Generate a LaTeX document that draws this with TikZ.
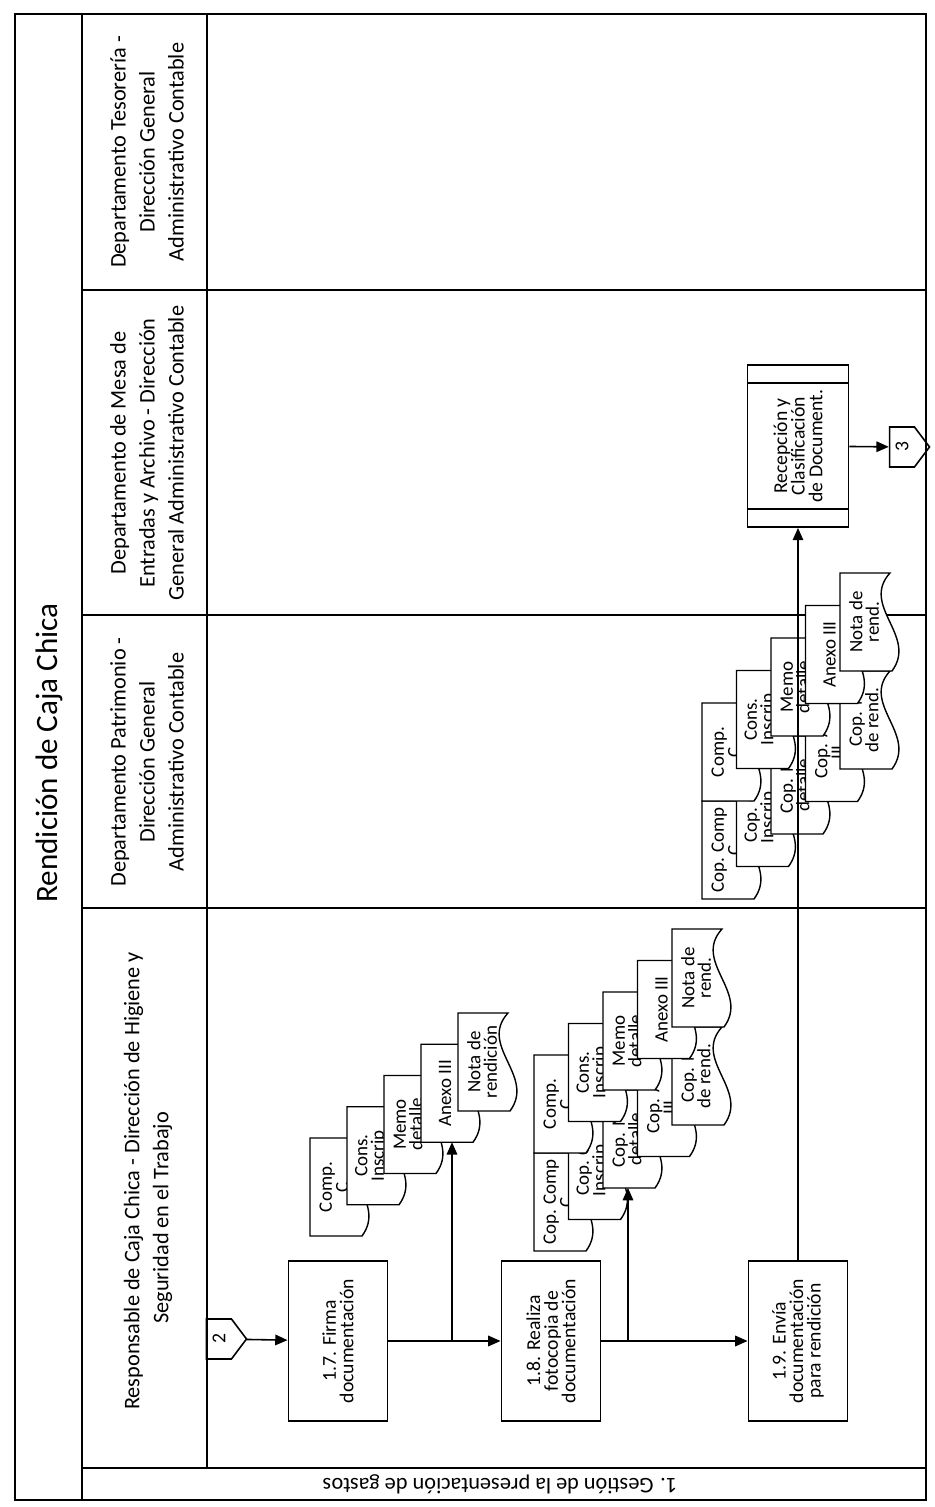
\documentclass[tikz,border=0pt]{standalone}
\usepackage{fontspec}
\setmainfont{Carlito}
\usetikzlibrary{arrows.meta,calc,shapes.symbols}

\newcommand{\titlefont}{\fontsize{17.7}{21}\selectfont}
\newcommand{\lanefont}{\fontsize{12.7}{16.5}\selectfont}
\newcommand{\boxfont}{\fontsize{11.2}{10}\selectfont}
\newcommand{\docfont}{\fontsize{10.8}{9.4}\selectfont}

% document symbol: name, left, bottom, text
\newcommand{\docshape}[4]{%
  \begin{scope}[shift={(#2,#3)}]
    \draw[docline] (0,6) -- (0,58) -- (98,58) -- (98,8)
      .. controls (65,38) and (35,-20) .. (0,6) -- cycle;
    \node[doctext] (#1) at (49,34) {#4};
    \coordinate (#1-in) at (0,34);
  \end{scope}}

\tikzset{
  lane/.style={line width=1.2pt},
  proc/.style={draw, line width=1.1pt, minimum width=3.2cm, minimum height=1.98cm,
    align=center, font=\boxfont, inner sep=2pt},
  offpage/.style={draw, line width=0.9pt, shape=signal, signal to=south,
    signal pointer angle=106, minimum width=0.8cm, minimum height=0.6cm,
    inner sep=1pt, font=\boxfont},
  lanehead/.style={font=\lanefont, align=center},
  docline/.style={draw, fill=white, line width=0.8pt},
  doctext/.style={font=\docfont, align=center, inner sep=0pt},
  flow/.style={line width=0.9pt, -{Triangle[length=7pt,width=6pt]}}
}

\begin{document}
\begin{tikzpicture}[x=0.02cm, y=0.02cm]
\useasboundingbox (-935,0) rectangle (0,1507);
\begin{scope}[rotate=90, transform shape]

% frame, title row, header row, lanes
\draw[lane] (7,9) rectangle (1493,920);
\draw[lane] (7,853) -- (1493,853);
\draw[lane] (39,9) -- (39,853);
\draw[lane] (39,728) -- (1493,728);
\foreach \x in {599,892,1217}
  \draw[lane] (\x,9) -- (\x,853);

\node[font=\titlefont] (title) at (754,886) {Rendición de Caja Chica};
\node[font=\lanefont, rotate=90] (phase) at (23,435) {1. Gestión de la presentación de gastos};

\node[lanehead] (hresp) at (326,787) {Responsable de Caja Chica - Dirección de Higiene y\\Seguridad en el Trabajo\hspace*{42pt}};
\node[lanehead] (hpatr) at (745,788) {Departamento Patrimonio -\\Dirección General\\Administrativo Contable};
\node[lanehead] (hmesa) at (1054,788) {Departamento de Mesa de\\Entradas y Archivo - Dirección\\General Administrativo Contable};
\node[lanehead] (hteso) at (1355,788) {Departamento Tesorería -\\Dirección General\\Administrativo Contable};

% activities
\node[offpage] (c2) at (168,716) {2};
\node[proc] (b17) at (166,597) {1.7. Firma\\documentación};
\node[proc] (b18) at (166,384) {1.8. Realiza\\fotocopia de\\documentación};
\node[proc] (b19) at (166,137) {1.9. Envía\\documentación\\para rendición};
\node[proc, minimum width=3.24cm, minimum height=2.02cm] (recep) at (1061,137)
  {Recepción y\\Clasificación\\de Document.};
\draw[line width=1.1pt] ($(recep.north west)+(19,0)$) -- ($(recep.south west)+(19,0)$);
\draw[line width=1.1pt] ($(recep.north east)+(-19,0)$) -- ($(recep.south east)+(-19,0)$);
\node[offpage] (c3) at (1060,33) {3};

\coordinate (j1) at (166,483);
\coordinate (j2) at (166,307);

\draw[flow] (c2) -- (b17);
\draw[flow] (b17) -- (b18);
\draw[flow] (b18) -- (b19);
\draw[flow] (recep) -- (c3);

% signed documents
\foreach \i/\t in {0/{Comp.\\C}, 1/{Cons.\\Inscrip}, 2/{Memo\\detalle},
    3/{Anexo III}, 4/{Nota de\\rendición}}
  \docshape{a\i}{271+31.25*\i}{567-37*\i}{\t};

% originals and copies after 1.8
\foreach \i/\t in {0/{Cop. Comp\\C}, 1/{Cop. C\\Inscrip}, 2/{Cop. M\\detalle},
    3/{Cop. A\\III}, 4/{Cop. N\\de rend.}}
  \docshape{bc\i}{256+31.5*\i}{343-34.5*\i}{\t};
\foreach \i/\t in {0/{Comp.\\C}, 1/{Cons.\\Inscrip}, 2/{Memo\\detalle},
    3/{Anexo III}, 4/{Nota de\\rend.}}
  \docshape{bo\i}{354+31.5*\i}{343-34.5*\i}{\t};

% documents sent
\foreach \i/\t in {0/{Cop. Comp\\C}, 1/{Cop. C\\Inscrip}, 2/{Cop. M\\detalle},
    3/{Cop. A\\III}, 4/{Cop. N\\de rend.}}
  \docshape{pc\i}{608+32.5*\i}{175-34.5*\i}{\t};
\foreach \i/\t in {0/{Comp.\\C}, 1/{Cons.\\Inscrip}, 2/{Memo\\detalle},
    3/{Anexo III}, 4/{Nota de\\rend.}}
  \docshape{po\i}{706+32.5*\i}{175-34.5*\i}{\t};

\draw[flow] (j1) -- (j1 -| a3-in);
\draw[flow] (j2) -- (j2 -| bc2-in);
\draw[flow] (b19) -- (recep);

\end{scope}
\end{tikzpicture}
\end{document}
